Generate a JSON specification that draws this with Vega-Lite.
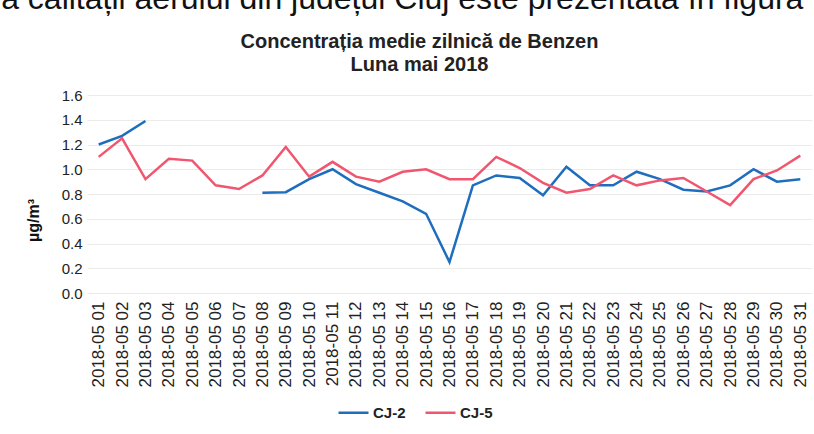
{
  "$schema": "https://vega.github.io/schema/vega-lite/v6.json",
  "width": 725,
  "height": 198,
  "autosize": "none",
  "padding": {"left": 87, "top": 95, "right": 2, "bottom": 141},
  "background": "white",
  "config": {"view": {"stroke": null}, "font": "Liberation Sans"},
  "title": {
    "text": "a calității aerului din județul Cluj este prezentată în figura",
    "anchor": "start",
    "frame": "bounds",
    "dx": -24,
    "fontSize": 32,
    "font": "Liberation Sans",
    "fontWeight": "normal",
    "color": "#111111",
    "offset": 15
  },
  "data": {
    "values": [
      {"date": "2018-05 01", "station": "CJ-2", "value": 1.2},
      {"date": "2018-05 02", "station": "CJ-2", "value": 1.27},
      {"date": "2018-05 03", "station": "CJ-2", "value": 1.39},
      {"date": "2018-05 04", "station": "CJ-2", "value": null},
      {"date": "2018-05 05", "station": "CJ-2", "value": null},
      {"date": "2018-05 06", "station": "CJ-2", "value": null},
      {"date": "2018-05 07", "station": "CJ-2", "value": null},
      {"date": "2018-05 08", "station": "CJ-2", "value": 0.81},
      {"date": "2018-05 09", "station": "CJ-2", "value": 0.815},
      {"date": "2018-05 10", "station": "CJ-2", "value": 0.92},
      {"date": "2018-05 11", "station": "CJ-2", "value": 1.0},
      {"date": "2018-05 12", "station": "CJ-2", "value": 0.88},
      {"date": "2018-05 13", "station": "CJ-2", "value": 0.81},
      {"date": "2018-05 14", "station": "CJ-2", "value": 0.74},
      {"date": "2018-05 15", "station": "CJ-2", "value": 0.64},
      {"date": "2018-05 16", "station": "CJ-2", "value": 0.25},
      {"date": "2018-05 17", "station": "CJ-2", "value": 0.87},
      {"date": "2018-05 18", "station": "CJ-2", "value": 0.95},
      {"date": "2018-05 19", "station": "CJ-2", "value": 0.93},
      {"date": "2018-05 20", "station": "CJ-2", "value": 0.79},
      {"date": "2018-05 21", "station": "CJ-2", "value": 1.02},
      {"date": "2018-05 22", "station": "CJ-2", "value": 0.87},
      {"date": "2018-05 23", "station": "CJ-2", "value": 0.87},
      {"date": "2018-05 24", "station": "CJ-2", "value": 0.98},
      {"date": "2018-05 25", "station": "CJ-2", "value": 0.92},
      {"date": "2018-05 26", "station": "CJ-2", "value": 0.835},
      {"date": "2018-05 27", "station": "CJ-2", "value": 0.82},
      {"date": "2018-05 28", "station": "CJ-2", "value": 0.87},
      {"date": "2018-05 29", "station": "CJ-2", "value": 1.0},
      {"date": "2018-05 30", "station": "CJ-2", "value": 0.9},
      {"date": "2018-05 31", "station": "CJ-2", "value": 0.92},
      {"date": "2018-05 01", "station": "CJ-5", "value": 1.1},
      {"date": "2018-05 02", "station": "CJ-5", "value": 1.25},
      {"date": "2018-05 03", "station": "CJ-5", "value": 0.92},
      {"date": "2018-05 04", "station": "CJ-5", "value": 1.085},
      {"date": "2018-05 05", "station": "CJ-5", "value": 1.07},
      {"date": "2018-05 06", "station": "CJ-5", "value": 0.87},
      {"date": "2018-05 07", "station": "CJ-5", "value": 0.84},
      {"date": "2018-05 08", "station": "CJ-5", "value": 0.95},
      {"date": "2018-05 09", "station": "CJ-5", "value": 1.18},
      {"date": "2018-05 10", "station": "CJ-5", "value": 0.94},
      {"date": "2018-05 11", "station": "CJ-5", "value": 1.06},
      {"date": "2018-05 12", "station": "CJ-5", "value": 0.94},
      {"date": "2018-05 13", "station": "CJ-5", "value": 0.9},
      {"date": "2018-05 14", "station": "CJ-5", "value": 0.98},
      {"date": "2018-05 15", "station": "CJ-5", "value": 1.0},
      {"date": "2018-05 16", "station": "CJ-5", "value": 0.92},
      {"date": "2018-05 17", "station": "CJ-5", "value": 0.92},
      {"date": "2018-05 18", "station": "CJ-5", "value": 1.1},
      {"date": "2018-05 19", "station": "CJ-5", "value": 1.01},
      {"date": "2018-05 20", "station": "CJ-5", "value": 0.89},
      {"date": "2018-05 21", "station": "CJ-5", "value": 0.81},
      {"date": "2018-05 22", "station": "CJ-5", "value": 0.84},
      {"date": "2018-05 23", "station": "CJ-5", "value": 0.95},
      {"date": "2018-05 24", "station": "CJ-5", "value": 0.87},
      {"date": "2018-05 25", "station": "CJ-5", "value": 0.91},
      {"date": "2018-05 26", "station": "CJ-5", "value": 0.93},
      {"date": "2018-05 27", "station": "CJ-5", "value": 0.82},
      {"date": "2018-05 28", "station": "CJ-5", "value": 0.71},
      {"date": "2018-05 29", "station": "CJ-5", "value": 0.92},
      {"date": "2018-05 30", "station": "CJ-5", "value": 0.99},
      {"date": "2018-05 31", "station": "CJ-5", "value": 1.11}
    ]
  },
  "layer": [
    {
      "mark": {"type": "line", "strokeWidth": 2.5, "invalid": "break-paths-show-domains"},
      "encoding": {
        "x": {
          "field": "date",
          "type": "ordinal",
          "scale": {"type": "point", "padding": 0.5},
          "axis": {
            "title": null,
            "labelAngle": -90,
            "labelFontSize": 17,
            "labelColor": "#222222",
            "labelPadding": 8,
            "domain": false,
            "ticks": false,
            "grid": false
          }
        },
        "y": {
          "field": "value",
          "type": "quantitative",
          "scale": {"domain": [0, 1.6], "nice": false},
          "axis": {
            "values": [0, 0.2, 0.4, 0.6, 0.8, 1.0, 1.2, 1.4, 1.6],
            "format": ".1f",
            "labelFontSize": 15,
            "labelColor": "#222222",
            "labelPadding": 5,
            "domain": false,
            "ticks": false,
            "gridColor": "#ebebeb",
            "title": "µg/m³",
            "titleFontSize": 16,
            "titleFontWeight": "bold",
            "titleColor": "#111111",
            "titlePadding": 20,
            "titleY": 125
          }
        },
        "color": {
          "field": "station",
          "type": "nominal",
          "scale": {"domain": ["CJ-2", "CJ-5"], "range": ["#1f6dbd", "#f0566f"]},
          "legend": {
            "orient": "none",
            "legendX": 250,
            "legendY": 301,
            "direction": "horizontal",
            "title": null,
            "symbolType": "stroke",
            "symbolStrokeWidth": 2.5,
            "symbolSize": 900,
            "labelFontSize": 15,
            "labelFontWeight": "bold",
            "labelColor": "#222222",
            "labelOffset": 3,
            "columnPadding": 14
          }
        }
      }
    },
    {
      "mark": {"type": "point", "opacity": 0},
      "encoding": {
        "x": {
          "field": "date",
          "type": "ordinal",
          "axis": {
            "orient": "top",
            "labels": false,
            "ticks": false,
            "domain": false,
            "grid": false,
            "title": ["Concentrația medie zilnică de Benzen", "Luna mai 2018"],
            "titleFontSize": 20,
            "titleFontWeight": "bold",
            "titleColor": "#222222",
            "titleLineHeight": 23,
            "titlePadding": 21,
            "titleX": 332
          }
        }
      }
    }
  ],
  "resolve": {"axis": {"x": "independent"}}
}
